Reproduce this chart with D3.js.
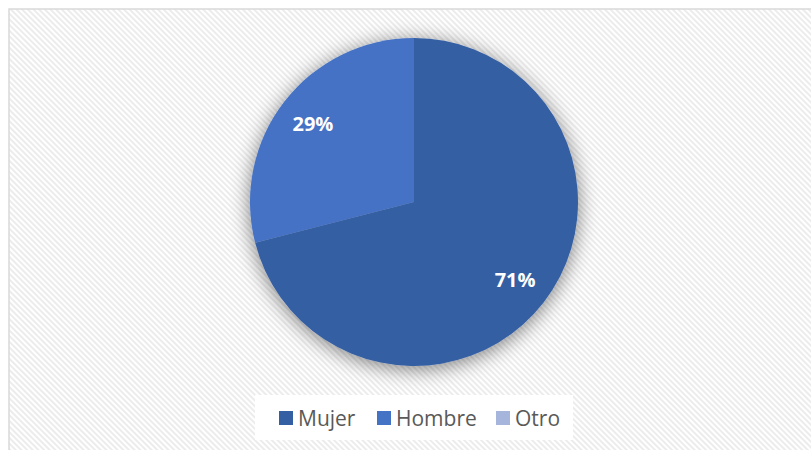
<!DOCTYPE html>
<html>
<head>
<meta charset="utf-8">
<script src="https://cdn.jsdelivr.net/npm/d3@7"></script>
<style>
  body { margin: 0; background: #fff; }
  svg { display: block; }
</style>
</head>
<body>
<script>
const width = 811, height = 450;

// chart data
const categories = ['Mujer', 'Hombre', 'Otro'];
const values = [71, 29, 0];
const colors = ['#355FA3', '#4472C4', '#A6B5DB'];

const svg = d3.select('body').append('svg')
  .attr('width', width)
  .attr('height', height);

const defs = svg.append('defs');

// diagonal hatch for the chart area
const pat = defs.append('pattern')
  .attr('id', 'hatch')
  .attr('patternUnits', 'userSpaceOnUse')
  .attr('width', 4).attr('height', 4)
  .attr('patternTransform', 'rotate(-45)');
pat.append('rect').attr('width', 4).attr('height', 4).attr('fill', '#ffffff');
pat.append('rect').attr('width', 2).attr('height', 4).attr('fill', '#ececec');

// soft shadow round the pie
const shadow = defs.append('filter')
  .attr('id', 'glow')
  .attr('x', '-30%').attr('y', '-30%')
  .attr('width', '160%').attr('height', '160%');
shadow.append('feGaussianBlur').attr('in', 'SourceAlpha').attr('stdDeviation', 10).attr('result', 'b');
shadow.append('feOffset').attr('in', 'b').attr('dx', 0).attr('dy', 3).attr('result', 'o');
shadow.append('feComponentTransfer').attr('in', 'o').attr('result', 's')
  .append('feFuncA').attr('type', 'linear').attr('slope', 0.5);
const merge = shadow.append('feMerge');
merge.append('feMergeNode').attr('in', 's');
merge.append('feMergeNode').attr('in', 'SourceGraphic');

// background and frame (only top and left edges show)
svg.append('rect')
  .attr('x', 9).attr('y', 9)
  .attr('width', width).attr('height', height)
  .attr('fill', 'url(#hatch)')
  .attr('stroke', '#d9d9d9')
  .attr('stroke-width', 1.5);

const cx = 414, cy = 202, radius = 164;

const pie = d3.pie().sort(null).value(d => d.v);
const arcs = pie(categories.map((c, i) => ({ c: c, v: values[i], col: colors[i] })));

const arc = d3.arc().innerRadius(0).outerRadius(radius);
const labelArc = d3.arc().innerRadius(radius * 0.78).outerRadius(radius * 0.78);

const g = svg.append('g').attr('transform', `translate(${cx},${cy})`);

g.append('g').attr('filter', 'url(#glow)')
  .selectAll('path')
  .data(arcs)
  .enter().append('path')
  .attr('d', arc)
  .attr('fill', d => d.data.col);

g.selectAll('text.lbl')
  .data(arcs.filter(d => d.data.v > 0))
  .enter().append('text')
  .attr('class', 'lbl')
  .attr('transform', d => `translate(${labelArc.centroid(d)})`)
  .attr('text-anchor', 'middle')
  .attr('dy', '0.35em')
  .attr('fill', '#ffffff')
  .attr('font-family', 'Open Sans, Liberation Sans, sans-serif')
  .attr('font-weight', 'bold')
  .attr('font-size', 20)
  .text(d => d.data.v + '%');

// legend
const legend = svg.append('g');
legend.append('rect')
  .attr('x', 255).attr('y', 395)
  .attr('width', 318).attr('height', 45)
  .attr('fill', '#ffffff');

const legendX = [279, 377, 496];
const item = legend.selectAll('g.item')
  .data(categories)
  .enter().append('g')
  .attr('class', 'item')
  .attr('transform', (d, i) => `translate(${legendX[i]},411)`);

item.append('rect')
  .attr('width', 14).attr('height', 14)
  .attr('fill', (d, i) => colors[i]);

item.append('text')
  .attr('x', 19).attr('y', 7)
  .attr('dy', '0.36em')
  .attr('fill', '#595959')
  .attr('font-family', 'Open Sans, Liberation Sans, sans-serif')
  .attr('font-size', 21)
  .text(d => d);
</script>
</body>
</html>
